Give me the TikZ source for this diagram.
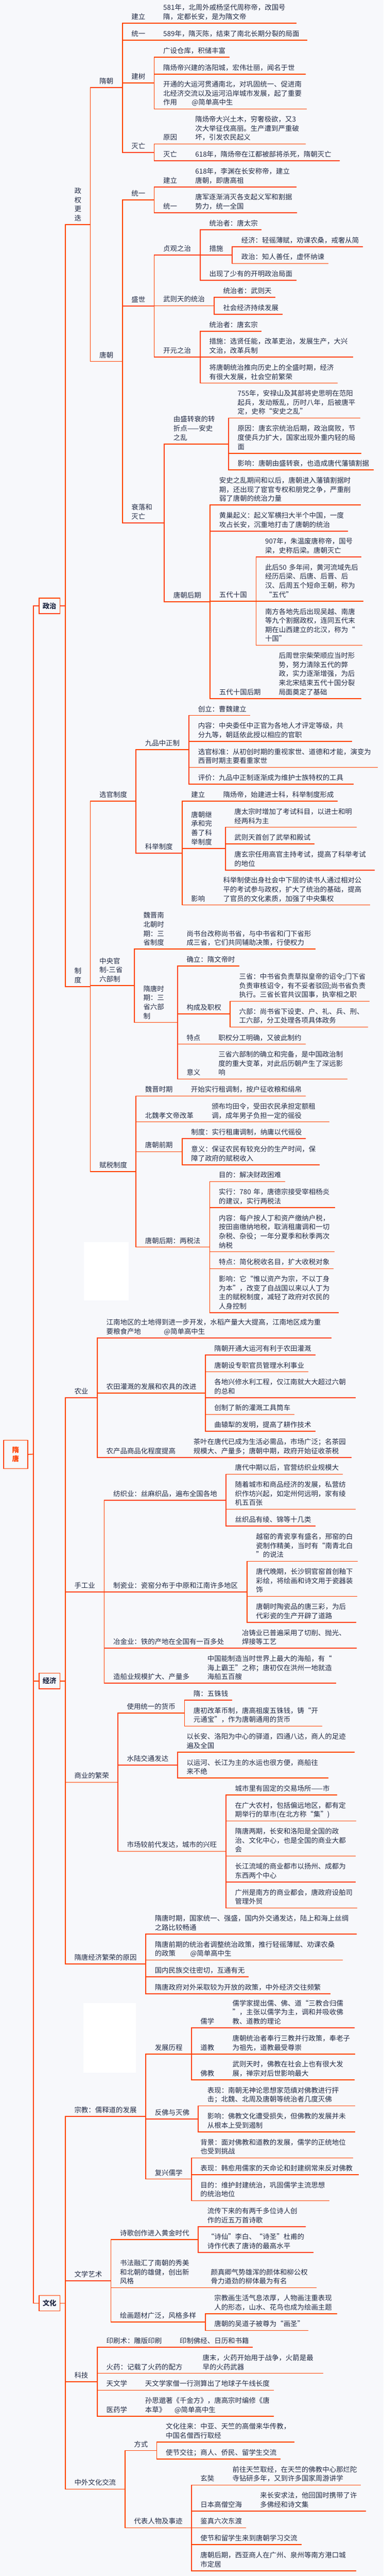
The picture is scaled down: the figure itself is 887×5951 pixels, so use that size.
\documentclass[tikz,border=0pt]{standalone}
\usepackage{fontspec}
\setmainfont{Noto Sans CJK SC}
\definecolor{paper}{HTML}{F7F8FB}
\definecolor{barred}{HTML}{FF4000}
\definecolor{ink}{HTML}{222B45}
\tikzset{
  bar/.style={draw=barred, line width=2pt, line cap=rect},
  twig/.style={anchor=south west, inner xsep=0pt, inner ysep=6pt, outer sep=0pt,
    text width=#1pt, align=left, text=ink, font=\fontsize{16}{21}\selectfont,
    execute at begin node={\leftskip=21pt\relax},
    execute at end node={\rule[-3pt]{0pt}{3pt}},
    append after command={(\tikzlastnode.south west) edge[bar] (\tikzlastnode.south east)}},
  hubbox/.style={draw=barred, line width=2pt, outer sep=0pt, inner sep=0pt, align=center, text=ink,
    minimum width=48pt, minimum height=36pt, font=\fontsize{16}{21}\selectfont\bfseries},
  rootbox/.style={hubbox, text=barred, minimum width=55.5pt, minimum height=65.5pt}
}
\begin{document}
\begin{tikzpicture}[x=1pt,y=-1pt]
  \fill[paper] (0,0) rectangle (887,5951);
  \useasboundingbox (0,0) rectangle (887,5951);
  \fill[white] (194,2870) rectangle (298,3004);
  \fill[white] (193,4628) rectangle (314,4788);

  \node[rootbox] (root) at (36.2,3359.9) {隋\\唐};
  \coordinate (hub) at (77,3359.3);
  \node[hubbox] (zz) at (114.5,1399.7) {政治};
  \node[hubbox] (jj) at (114.5,3883.3) {经济};
  \node[hubbox] (wh) at (114.5,5320.7) {文化};

  \node[twig=58] (zq) at (151,519) {政\\权\\更\\迭};
  \node[twig=74] (sui) at (209,202.7) {隋朝};
  \node[twig=73.5] (suiA) at (283,53.3) {建立};
  \node[twig=327.5] (suiAa) at (356.5,53.3) {581年，北周外戚杨坚代周称帝，改国号\\隋，定都长安，是为隋文帝};
  \node[twig=73.5] (suiB) at (283,92.7) {统一};
  \node[twig=353.5] (suiBa) at (356.5,92.7) {589年，隋灭陈，结束了南北长期分裂的局面};
  \node[twig=73.5] (suiC) at (283,191.7) {建树};
  \node[twig=173.5] (suiCa) at (356.5,132) {广设仓库，积储丰富};
  \node[twig=349.5] (suiCb) at (356.5,171) {隋炀帝兴建的洛阳城，宏伟壮丽，闻名于世};
  \node[twig=351.5] (suiCc) at (356.5,251.7) {开通的大运河贯通南北，对巩固统一、促进南\\北经济交流以及运河沿岸城市发展，起了重要\\作用\hspace{34pt}@简单高中生};
  \node[twig=73.5] (suiD) at (283,352) {灭亡};
  \node[twig=74] (suiDa) at (356.5,332.7) {原因};
  \node[twig=275.5] (suiDaa) at (430.5,332.7) {隋炀帝大兴土木，穷奢极欲，又3\\次大举征伐高丽。生产遭到严重破\\坏，引发农民起义};
  \node[twig=74] (suiDb) at (356.5,371.7) {灭亡};
  \node[twig=354.5] (suiDba) at (430.5,371.7) {618年，隋炀帝在江都被部将杀死，隋朝灭亡};

  \node[twig=74] (tang) at (209,835) {唐朝};
  \node[twig=73.5] (tangA) at (283,461.7) {统一};
  \node[twig=74] (tangAa) at (356.5,431.7) {建立};
  \node[twig=254] (tangAaa) at (430.5,431.7) {618年，李渊在长安称帝，建立\\唐朝，即唐高祖};
  \node[twig=74] (tangAb) at (356.5,491.7) {统一};
  \node[twig=255] (tangAba) at (430.5,491.7) {唐军逐渐消灭各支起义军和割据\\势力，统一全国};
  \node[twig=73.5] (tangB) at (283,706.7) {盛世};
  \node[twig=106.5] (tangBa) at (356.5,589.3) {贞观之治};
  \node[twig=141] (tangBaa) at (463,530.7) {统治者：唐太宗};
  \node[twig=74] (tangBab) at (463,589.3) {措施};
  \node[twig=301] (tangBaba) at (537,570) {经济：轻徭薄赋，劝课农桑，戒奢从简};
  \node[twig=221] (tangBabb) at (537,608.7) {政治：知人善任，虚怀纳谏};
  \node[twig=221] (tangBac) at (463,647.7) {出现了少有的开明政治局面};
  \node[twig=138.5] (tangBb) at (356.5,706.3) {武则天的统治};
  \node[twig=141] (tangBba) at (495,687) {统治者：武则天};
  \node[twig=157] (tangBbb) at (495,726) {社会经济持续发展};
  \node[twig=106.5] (tangBc) at (356.5,824.7) {开元之治};
  \node[twig=141] (tangBca) at (463,765) {统治者：唐玄宗};
  \node[twig=353] (tangBcb) at (463,824.7) {措施：选贤任能，改革吏治，发展生产，大兴\\文治，改革兵制};
  \node[twig=317] (tangBcc) at (463,885) {将唐朝统治推向历史上的全盛时期，经济\\有很大发展，社会空前繁荣};
  \node[twig=97] (tangC) at (283,1207.7) {衰落和\\灭亡};
  \node[twig=148.5] (tangCa) at (380,1025.7) {由盛转衰的转\\折点——安史\\之乱};
  \node[twig=303.5] (tangCaa) at (528.5,965.7) {755年，安禄山及其部将史思明在范阳\\起兵，发动叛乱，历时八年，后被唐平\\定，史称“安史之乱”};
  \node[twig=305.5] (tangCab) at (528.5,1047) {原因：唐玄宗统治后期，政治腐败，节\\度使兵力扩大，国家出现外重内轻的局\\面};
  \node[twig=334] (tangCac) at (528.5,1085.7) {影响：唐朝由盛转衰，也造成唐代藩镇割据};
  \node[twig=106] (tangCb) at (380,1390) {唐朝后期};
  \node[twig=347] (tangCba) at (486,1166.7) {安史之乱期间和以后，唐朝进入藩镇割据时\\期，还出现了宦官专权和朋党之争，严重削\\弱了唐朝的统治力量};
  \node[twig=318] (tangCbb) at (486,1226.7) {黄巢起义：起义军横扫大半个中国，一度\\攻占长安，沉重地打击了唐朝的统治};
  \node[twig=106] (tangCbc) at (486,1388.7) {五代十国};
  \node[twig=243] (tangCbca) at (592,1286.7) {907年，朱温废唐称帝，国号\\梁，史称后梁。唐朝灭亡};
  \node[twig=247] (tangCbcb) at (592,1388.7) {此后50 多年间，黄河流域先后\\经历后梁、后唐、后晋、后\\汉、后周五个短命王朝，称为\\“五代”};
  \node[twig=245] (tangCbcc) at (592,1490.7) {南方各地先后出现吴越、南唐\\等九个割据政权，连同五代末\\期在山西建立的北汉，称为“\\十国”};
  \node[twig=137.5] (tangCbd) at (486,1613.7) {五代十国后期};
  \node[twig=210.5] (tangCbda) at (623.5,1613.7) {后周世宗柴荣顺应当时形\\势，努力清除五代的弊\\政，实力逐渐增强，为后\\来北宋结束五代十国分裂\\局面奠定了基础};

  \node[twig=58] (zd) at (151,2279) {制\\度};
  \node[twig=105.5] (xg) at (209,1851) {选官制度};
  \node[twig=122.5] (xgA) at (314.5,1732) {九品中正制};
  \node[twig=141] (xgAa) at (437,1652.7) {创立：曹魏建立};
  \node[twig=376] (xgAb) at (437,1712.7) {内容：中央委任中正官为各地人才评定等级，共\\分九等，朝廷依此授以相应的官职};
  \node[twig=436] (xgAc) at (437,1772.7) {选官标准：从初创时期的重视家世、道德和才能，演变为\\西晋时期主要看重家世};
  \node[twig=380] (xgAd) at (437,1811.7) {评价：九品中正制逐渐成为维护士族特权的工具};
  \node[twig=106.5] (xgB) at (314.5,1970.7) {科举制度};
  \node[twig=74] (xgBa) at (421,1850.7) {建立};
  \node[twig=285] (xgBaa) at (495,1850.7) {隋炀帝，始建进士科，科举制度形成};
  \node[twig=100] (xgBb) at (421,1960) {唐朝继\\承和完\\善了科\\举制度};
  \node[twig=303] (xgBba) at (521,1911) {唐太宗时增加了考试科目，以进士和明\\经两科为主};
  \node[twig=205] (xgBbb) at (521,1949.7) {武则天首创了武举和殿试};
  \node[twig=344] (xgBbc) at (521,2010) {唐玄宗任用高官主持考试，提高了科举考试\\的地位};
  \node[twig=74] (xgBc) at (421,2090.7) {影响};
  \node[twig=360] (xgBca) at (495,2090.7) {科举制使出身社会中下层的读书人通过相对公\\平的考试参与政权，扩大了统治的基础，提高\\了官员的文化素质，加强了中央集权};

  \node[twig=101.5] (gz) at (209,2277) {中央官\\制-三省\\六部制};
  \node[twig=100] (gzA) at (310.5,2192.7) {魏晋南\\北朝时\\期：三\\省制度};
  \node[twig=318.5] (gzAa) at (410.5,2192.7) {尚书台改称尚书省，与中书省和门下省形\\成三省，它们共同辅助决策，行使权力};
  \node[twig=100] (gzB) at (310.5,2362) {隋唐时\\期：三\\省六部\\制};
  \node[twig=141.5] (gzBa) at (410.5,2231.7) {确立：隋文帝时};
  \node[twig=121.5] (gzBb) at (410.5,2342.3) {构成及职权};
  \node[twig=322] (gzBba) at (532,2313) {三省：中书省负责草拟皇帝的诏令;门下省\\负责审核诏令，有不妥者驳回;尚书省负责\\执行。三省长官共议国事，执宰相之职};
  \node[twig=318] (gzBbb) at (532,2372.7) {六部：尚书省下设吏、户、礼、兵、刑、\\工六部，分工处理各项具体政务};
  \node[twig=73.5] (gzBc) at (410.5,2412) {特点};
  \node[twig=222] (gzBca) at (484,2412) {职权分工明确，又彼此制约};
  \node[twig=73.5] (gzBd) at (410.5,2492.7) {意义};
  \node[twig=318] (gzBda) at (484,2492.7) {三省六部制的确立和完备，是中国政治制\\度的重大变革，对此后历朝产生了深远影\\响};

  \node[twig=105.5] (fs) at (209,2706.7) {赋税制度};
  \node[twig=106] (fsA) at (314.5,2532) {魏晋时期};
  \node[twig=285.5] (fsAa) at (420.5,2532) {开始实行租调制，按户征收粮和绢帛};
  \node[twig=154] (fsB) at (314.5,2591.7) {北魏孝文帝改革};
  \node[twig=292] (fsBa) at (468.5,2591.7) {颁布均田令，受田农民承担定额租\\调，成年男子负担一定的徭役};
  \node[twig=106.5] (fsC) at (314.5,2660.7) {唐朝前期};
  \node[twig=285] (fsCa) at (421,2630.7) {制度：实行租庸调制，纳庸以代徭役};
  \node[twig=317] (fsCb) at (421,2691) {意义：保证农民有较充分的生产时间，保\\障了政府的赋税收入};
  \node[twig=170.5] (fsD) at (314.5,2881) {唐朝后期：两税法};
  \node[twig=173] (fsDa) at (485,2729.7) {目的：解决财政困难};
  \node[twig=289] (fsDb) at (485,2789.7) {实行：780 年，唐德宗接受宰相杨炎\\的建议，实行两税法};
  \node[twig=288] (fsDc) at (485,2891.7) {内容：每户按人丁和资产缴纳户税，\\按田亩缴纳地税，取消租庸调和一切\\杂税、杂役；一年分夏季和秋季两次\\纳税};
  \node[twig=285] (fsDd) at (485,2930.7) {特点：简化税收名目，扩大收税对象};
  \node[twig=297] (fsDe) at (485,3032.7) {影响：它“惟以资产为宗，不以丁身\\为本”，改变了自战国以来以人丁为\\主的赋税制度，减轻了政府对农民的\\人身控制};

  \node[twig=74] (ny) at (151,3228.7) {农业};
  \node[twig=541] (nyA) at (225,3090.7) {江南地区的土地得到进一步开发，水稻产量大大提高，江南地区成为重\\要粮食产地\hspace{53pt}@简单高中生};
  \node[twig=249.5] (nyB) at (225,3218.3) {农田灌溉的发展和农具的改进};
  \node[twig=253.5] (nyBa) at (474.5,3130) {隋朝开通大运河有利于农田灌溉};
  \node[twig=237.5] (nyBb) at (474.5,3169) {唐朝设专职官员管理水利事业};
  \node[twig=346.5] (nyBc) at (474.5,3229) {各地兴修水利工程，仅江南就大大超过六朝\\的总和};
  \node[twig=205.5] (nyBd) at (474.5,3267.7) {创制了新的灌溉工具筒车};
  \node[twig=253.5] (nyBe) at (474.5,3306.7) {曲辕犁的发明，提高了耕作技术};
  \node[twig=201.5] (nyC) at (225,3366.7) {农产品商品化程度提高};
  \node[twig=385.5] (nyCa) at (426.5,3366.7) {茶叶在唐代已成为生活必需品，市场广泛；名茶园\\规模大、产量多；唐朝中期，政府开始征收茶税};

  \node[twig=90] (sg) at (151,3677.3) {手工业};
  \node[twig=281.5] (sgA) at (241,3465.7) {纺织业：丝麻织品，遍布全国各地};
  \node[twig=269.5] (sgAa) at (522.5,3405.7) {唐代中期以后，官营纺织业规模大};
  \node[twig=298.5] (sgAb) at (522.5,3486.7) {随着城市和商品经济的发展，私营纺\\织作坊兴起，如定州何远明，家有绫\\机五百张};
  \node[twig=205.5] (sgAc) at (522.5,3525.3) {丝织品有绫、锦等十几类};
  \node[twig=330] (sgB) at (241,3677.3) {制瓷业：瓷窑分布于中原和江南许多地区};
  \node[twig=255] (sgBa) at (571,3606.7) {越窑的青瓷享有盛名，邢窑的白\\瓷制作精美，当时有“南青北白\\”的说法};
  \node[twig=254] (sgBb) at (571,3687.7) {唐代晚期，长沙铜官窑首创釉下\\彩绘，将绘画和诗文用于瓷器装\\饰};
  \node[twig=252] (sgBc) at (571,3747.7) {唐朝时陶瓷品的唐三彩，为后\\代彩瓷的生产开辟了道路};
  \node[twig=297.5] (sgC) at (241,3807.7) {冶金业：铁的产地在全国有一百多处};
  \node[twig=285] (sgCa) at (538.5,3807.7) {冶铸业已普遍采用了切削、抛光、\\焊接等工艺};
  \node[twig=217.5] (sgD) at (241,3888.7) {造船业规模扩大、产量多};
  \node[twig=317.5] (sgDa) at (458.5,3888.7) {中国能制造当时世界上最大的海船，有“\\海上霸王”之称；唐初仅在洪州一地就造\\海船五百艘};

  \node[twig=121.5] (sy) at (151,4117.3) {商业的繁荣};
  \node[twig=154] (syA) at (272.5,3957.7) {使用统一的货币};
  \node[twig=109.5] (syAa) at (426.5,3927.7) {隋：五铢钱};
  \node[twig=317.5] (syAb) at (426.5,3987.7) {唐初改革币制，唐高祖废五铢钱，铸“开\\元通宝”，作为唐朝通用的货币};
  \node[twig=138] (syB) at (272.5,4077.7) {水陆交通发达};
  \node[twig=409] (syBa) at (410.5,4047.7) {以长安、洛阳为中心的驿道，四通八达，商人的足迹\\遍及全国};
  \node[twig=348] (syBb) at (410.5,4107.7) {以运河、长江为主的水运也很方便，商船往\\来不绝};
  \node[twig=250] (syC) at (272.5,4277) {市场较前代发达，城市的兴旺};
  \node[twig=256.5] (syCa) at (522.5,4146.7) {城市里有固定的交易场所——市};
  \node[twig=300.5] (syCb) at (522.5,4206.7) {在广大农村，包括偏远地区，都有定\\期举行的草市(在北方称“集”)};
  \node[twig=299.5] (syCc) at (522.5,4287.7) {隋唐两期，长安和洛阳是全国的政\\治、文化中心，也是全国的商业大都\\会};
  \node[twig=299.5] (syCd) at (522.5,4347.7) {长江流域的商业都市以扬州、成都为\\东西两个中心};
  \node[twig=302.5] (syCe) at (522.5,4407.7) {广州是南方的商业都会，唐政府设舶司\\管理外贸};

  \node[twig=186] (yy) at (151,4536.7) {隋唐经济繁荣的原因};
  \node[twig=487] (yyA) at (337,4467.7) {隋唐时期，国家统一、强盛，国内外交通发达，陆上和海上丝绸\\之路比较畅通};
  \node[twig=455] (yyB) at (337,4528) {隋唐前期的统治者调整统治政策，推行轻徭薄赋、劝课农桑\\的政策\hspace{34pt}@简单高中生};
  \node[twig=237] (yyC) at (337,4566.7) {国内民族交往密切，互通有无};
  \node[twig=426] (yyD) at (337,4605.7) {隋唐政府对外采取较为开放的政策，中外经济交往频繁};

  \node[twig=186] (zj) at (151,4889) {宗教：儒释道的发展};
  \node[twig=105.5] (zjA) at (337,4745) {发展历程};
  \node[twig=74] (zjAa) at (442.5,4684.7) {儒学};
  \node[twig=302.5] (zjAaa) at (516.5,4684.7) {儒学家提出儒、佛、道“三教合归儒\\”，主张以儒学为主，调和并吸收佛\\教、道教的理论};
  \node[twig=74] (zjAb) at (442.5,4745) {道教};
  \node[twig=303.5] (zjAba) at (516.5,4745) {唐朝统治者奉行三教并行政策，奉老子\\为祖先，道教最受尊崇};
  \node[twig=74] (zjAc) at (442.5,4804.7) {佛教};
  \node[twig=302.5] (zjAca) at (516.5,4804.7) {武则天时，佛教在社会上也有很大发\\展，禅宗对后世影响最大};
  \node[twig=121.5] (zjB) at (337,4895) {反佛与灭佛};
  \node[twig=361.5] (zjBa) at (458.5,4864.7) {表现：南朝无神论思想家范缜对佛教进行抨\\击；北魏、北周及唐朝等统治者几度灭佛};
  \node[twig=361.5] (zjBb) at (458.5,4925) {影响：佛教文化遭受损失，但佛教的发展并未\\从根本上受到遏制};
  \node[twig=105.5] (zjC) at (337,5034) {复兴儒学};
  \node[twig=372.5] (zjCa) at (442.5,4985) {背景：面对佛教和道教的发展，儒学的正统地位\\也受到挑战};
  \node[twig=386] (zjCb) at (442.5,5023.7) {表现：韩愈用儒家的天命论和封建纲常来反对佛教};
  \node[twig=318] (zjCc) at (442.5,5083.7) {目的：维护封建统治，巩固儒学主流思想\\的统治地位};

  \node[twig=105.5] (wx) at (151,5269) {文学艺术};
  \node[twig=202] (wxA) at (256.5,5173.7) {诗歌创作进入黄金时代};
  \node[twig=248] (wxAa) at (458.5,5143.7) {流传下来的有两千多位诗人创\\作的近五万首诗歌};
  \node[twig=265.5] (wxAb) at (458.5,5203.7) {“诗仙”李白、“诗圣”杜甫的\\诗作代表了唐诗的最高水平};
  \node[twig=210] (wxB) at (256.5,5285) {书法融汇了南朝的秀美\\和北朝的雄健，创出新\\风格};
  \node[twig=264.5] (wxBa) at (466.5,5285) {颜真卿气势雄浑的颜体和柳公权\\骨力遒劲的柳体最为有名};
  \node[twig=218] (wxC) at (256.5,5364.3) {绘画题材广泛，风格多样};
  \node[twig=303.5] (wxCa) at (474.5,5345) {宗教画生活气息浓厚，人物画注重表现\\人的形态，山水、花鸟也成为绘画主题};
  \node[twig=237.5] (wxCb) at (474.5,5383.7) {唐朝的吴道子被尊为“画圣”};

  \node[twig=74] (kj) at (151,5502.3) {科技};
  \node[twig=169.5] (kjA) at (225,5422.7) {印刷术：雕版印刷};
  \node[twig=189] (kjAa) at (394.5,5422.7) {印制佛经、日历和书籍};
  \node[twig=222.5] (kjB) at (225,5482.7) {火药：记载了火药的配方};
  \node[twig=298.5] (kjBa) at (447.5,5482.7) {唐末，火药开始用于战争，火箭是最\\早的火药武器};
  \node[twig=89.5] (kjC) at (225,5521.7) {天文学};
  \node[twig=317.5] (kjCa) at (314.5,5521.7) {天文学家僧一行测算出了地球子午线长度};
  \node[twig=89.5] (kjD) at (225,5581.7) {医药学};
  \node[twig=317.5] (kjDa) at (314.5,5581.7) {孙思邈著《千金方》，唐高宗时编修《唐\\本草》\hspace{20pt}@简单高中生};

  \node[twig=138] (jl) at (151,5750.3) {中外文化交流};
  \node[twig=73.5] (jlA) at (289,5661.3) {方式};
  \node[twig=317.5] (jlAa) at (362.5,5641.7) {文化往来：中亚、天竺的高僧来华传教，\\中国名僧西行取经};
  \node[twig=285.5] (jlAb) at (362.5,5680.7) {使节交往；商人、侨民、留学生交流};
  \node[twig=153.5] (jlB) at (289,5839.7) {代表人物及事迹};
  \node[twig=74] (jlBa) at (442.5,5740.7) {玄奘};
  \node[twig=317] (jlBaa) at (516.5,5740.7) {前往天竺取经，在天竺的佛教中心那烂陀\\寺钻研多年，又到许多国家周游讲学};
  \node[twig=138] (jlBb) at (442.5,5800.7) {日本高僧空海};
  \node[twig=264.5] (jlBba) at (580.5,5800.7) {来长安求法，他回国时携带了许\\多佛经和诗文集};
  \node[twig=125.5] (jlBc) at (442.5,5839.7) {鉴真六次东渡};
  \node[twig=253.5] (jlBd) at (442.5,5878.7) {使节和留学生来到唐朝学习交流};
  \node[twig=380.5] (jlBe) at (442.5,5938.7) {唐朝后期，西亚商人在广州、泉州等南方港口城\\市定居};

  \draw[bar] (root.east) -- (hub);
  \foreach \b in {zz,jj,wh}
    \draw[bar] (hub) |- (\b.west);
  \foreach \p/\kids in {zz/{zq,zd}, jj/{ny,sg,sy,yy}, wh/{zj,wx,kj,jl}}
    \foreach \c in \kids
      \draw[bar] (\p.east) -| (\c.south west);

  \foreach \p/\kids in {
    zq/{sui,tang}, sui/{suiA,suiB,suiC,suiD}, suiA/{suiAa}, suiB/{suiBa}, suiC/{suiCa,suiCb,suiCc},
    suiD/{suiDa,suiDb}, suiDa/{suiDaa}, suiDb/{suiDba},
    tang/{tangA,tangB,tangC}, tangA/{tangAa,tangAb}, tangAa/{tangAaa}, tangAb/{tangAba},
    tangB/{tangBa,tangBb,tangBc}, tangBa/{tangBaa,tangBab,tangBac}, tangBab/{tangBaba,tangBabb},
    tangBb/{tangBba,tangBbb}, tangBc/{tangBca,tangBcb,tangBcc},
    tangC/{tangCa,tangCb}, tangCa/{tangCaa,tangCab,tangCac}, tangCb/{tangCba,tangCbb,tangCbc,tangCbd},
    tangCbc/{tangCbca,tangCbcb,tangCbcc}, tangCbd/{tangCbda},
    zd/{xg,gz,fs}, xg/{xgA,xgB}, xgA/{xgAa,xgAb,xgAc,xgAd}, xgB/{xgBa,xgBb,xgBc}, xgBa/{xgBaa},
    xgBb/{xgBba,xgBbb,xgBbc}, xgBc/{xgBca},
    gz/{gzA,gzB}, gzA/{gzAa}, gzB/{gzBa,gzBb,gzBc,gzBd}, gzBb/{gzBba,gzBbb}, gzBc/{gzBca}, gzBd/{gzBda},
    fs/{fsA,fsB,fsC,fsD}, fsA/{fsAa}, fsB/{fsBa}, fsC/{fsCa,fsCb}, fsD/{fsDa,fsDb,fsDc,fsDd,fsDe},
    ny/{nyA,nyB,nyC}, nyB/{nyBa,nyBb,nyBc,nyBd,nyBe}, nyC/{nyCa},
    sg/{sgA,sgB,sgC,sgD}, sgA/{sgAa,sgAb,sgAc}, sgB/{sgBa,sgBb,sgBc}, sgC/{sgCa}, sgD/{sgDa},
    sy/{syA,syB,syC}, syA/{syAa,syAb}, syB/{syBa,syBb}, syC/{syCa,syCb,syCc,syCd,syCe},
    yy/{yyA,yyB,yyC,yyD},
    zj/{zjA,zjB,zjC}, zjA/{zjAa,zjAb,zjAc}, zjAa/{zjAaa}, zjAb/{zjAba}, zjAc/{zjAca},
    zjB/{zjBa,zjBb}, zjC/{zjCa,zjCb,zjCc},
    wx/{wxA,wxB,wxC}, wxA/{wxAa,wxAb}, wxB/{wxBa}, wxC/{wxCa,wxCb},
    kj/{kjA,kjB,kjC,kjD}, kjA/{kjAa}, kjB/{kjBa}, kjC/{kjCa}, kjD/{kjDa},
    jl/{jlA,jlB}, jlA/{jlAa,jlAb}, jlB/{jlBa,jlBb,jlBc,jlBd,jlBe}, jlBa/{jlBaa}, jlBb/{jlBba}}
    \foreach \c in \kids
      \draw[bar] (\p.south east) |- (\c.south west);
\end{tikzpicture}
\end{document}
